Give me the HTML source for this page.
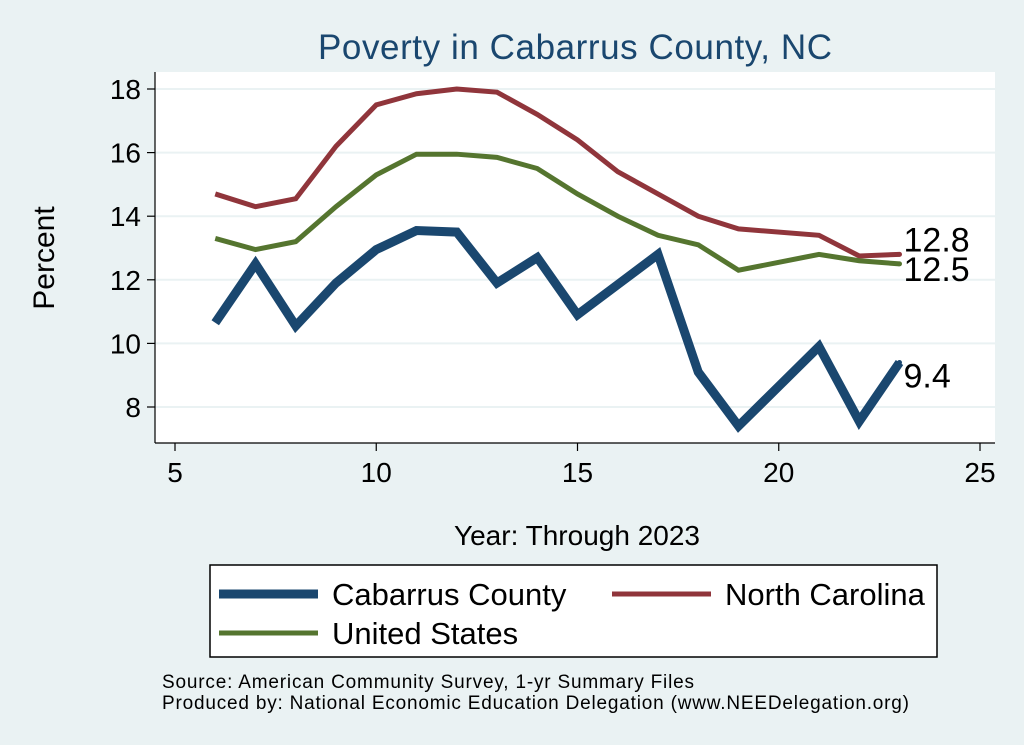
<!DOCTYPE html>
<html><head><meta charset="utf-8"><style>
body{margin:0;background:#eaf2f3;font-family:"Liberation Sans",sans-serif;}
svg{display:block}
</style></head><body>
<svg width="1024" height="745">
<rect width="1024" height="745" fill="#eaf2f3"/>
<text x="575" y="59" font-size="35" fill="#1a476f" text-anchor="middle" textLength="514">Poverty in Cabarrus County, NC</text>
<rect x="155" y="72" width="840" height="371" fill="#fff"/>
<g id="grid"></g><g id="axes"></g><g id="series"></g>
<text x="54" y="258" font-size="30" text-anchor="middle" transform="rotate(-90 54 258)">Percent</text>
<text x="577" y="545" font-size="28" text-anchor="middle">Year: Through 2023</text>
<g>
<rect x="210" y="565" width="727" height="92" fill="#fff" stroke="#000" stroke-width="1.5"/>
<line x1="219" y1="594" x2="318" y2="594" stroke="#1a476f" stroke-width="9"/>
<text x="332" y="605" font-size="31">Cabarrus County</text>
<line x1="612" y1="594" x2="711" y2="594" stroke="#90353b" stroke-width="5"/>
<text x="725" y="605" font-size="31">North Carolina</text>
<line x1="219" y1="633" x2="318" y2="633" stroke="#55752f" stroke-width="5"/>
<text x="332" y="644" font-size="31">United States</text>
</g>
<text x="162" y="688" font-size="19" textLength="532">Source: American Community Survey, 1-yr Summary Files</text>
<text x="162" y="709" font-size="19" textLength="747">Produced by: National Economic Education Delegation (www.NEEDelegation.org)</text>
</svg>
<script>
const years=[6,7,8,9,10,11,12,13,14,15,16,17,18,19,21,22,23];
const cabarrus=[10.65,12.5,10.55,11.9,12.95,13.55,13.5,11.9,12.7,10.9,11.85,12.8,9.1,7.4,9.9,7.55,9.4];
const northCarolina=[14.7,14.3,14.55,16.2,17.5,17.85,18.0,17.9,17.2,16.4,15.4,14.7,14.0,13.6,13.4,12.75,12.8];
const unitedStates=[13.3,12.95,13.2,14.3,15.3,15.95,15.95,15.85,15.5,14.7,14.0,13.4,13.1,12.3,12.8,12.6,12.5];
const xTicks=[5,10,15,20,25];
const yTicks=[8,10,12,14,16,18];
const NS="http://www.w3.org/2000/svg";
const xs=v=>175+(v-5)*40.25;
const ys=v=>89+(18-v)*31.8;
function mk(t,a,p){const e=document.createElementNS(NS,t);for(const k in a)e.setAttribute(k,a[k]);p.appendChild(e);return e;}
const grid=document.getElementById('grid'),axes=document.getElementById('axes'),ser=document.getElementById('series');
mk('line',{x1:155,y1:72,x2:155,y2:443,stroke:'#000','stroke-width':1.2},axes);
mk('line',{x1:155,y1:443,x2:995,y2:443,stroke:'#000','stroke-width':1.2},axes);
yTicks.forEach(t=>{
 const g=mk('line',{x1:155,y1:ys(t),x2:995,y2:ys(t),stroke:'#eaf2f3','stroke-width':2},grid);
 
 
 mk('line',{x1:147,y1:ys(t),x2:155,y2:ys(t),stroke:'#000','stroke-width':1.2},axes);
 const l=mk('text',{x:141,y:ys(t)+10,'font-size':28,'text-anchor':'end'},axes);l.textContent=t;
 
 
});
xTicks.forEach(t=>{
 mk('line',{x1:xs(t),y1:443,x2:xs(t),y2:451,stroke:'#000','stroke-width':1.2},axes);
 const l=mk('text',{x:xs(t),y:482,'font-size':28,'text-anchor':'middle'},axes);l.textContent=t;
 
 
});
function line(vals,color,w,name){
 const p=mk('polyline',{points:years.map((y,i)=>xs(y)+','+ys(vals[i])).join(' '),fill:'none',stroke:color,'stroke-width':w,'stroke-linejoin':'miter'},ser);
 
 
 const n=vals.length-1;
 mk('circle',{cx:xs(years[n]),cy:ys(vals[n]),r:2.5,fill:color},ser);
}
line(northCarolina,'#90353b',5,'north-carolina-line');
line(unitedStates,'#55752f',5,'united-states-line');
line(cabarrus,'#1a476f',9,'cabarrus-line');
const last=years.length-1;
[[northCarolina,-3,'nc-end-label'],[unitedStates,17,'us-end-label'],[cabarrus,25,'cabarrus-end-label']].forEach(([v,dy,nm])=>{
 const t=mk('text',{x:xs(years[last])+4,y:ys(v[last])+dy,'font-size':34},ser);
 t.textContent=v[last].toFixed(1);
 
 
});
</script>
</body></html>
